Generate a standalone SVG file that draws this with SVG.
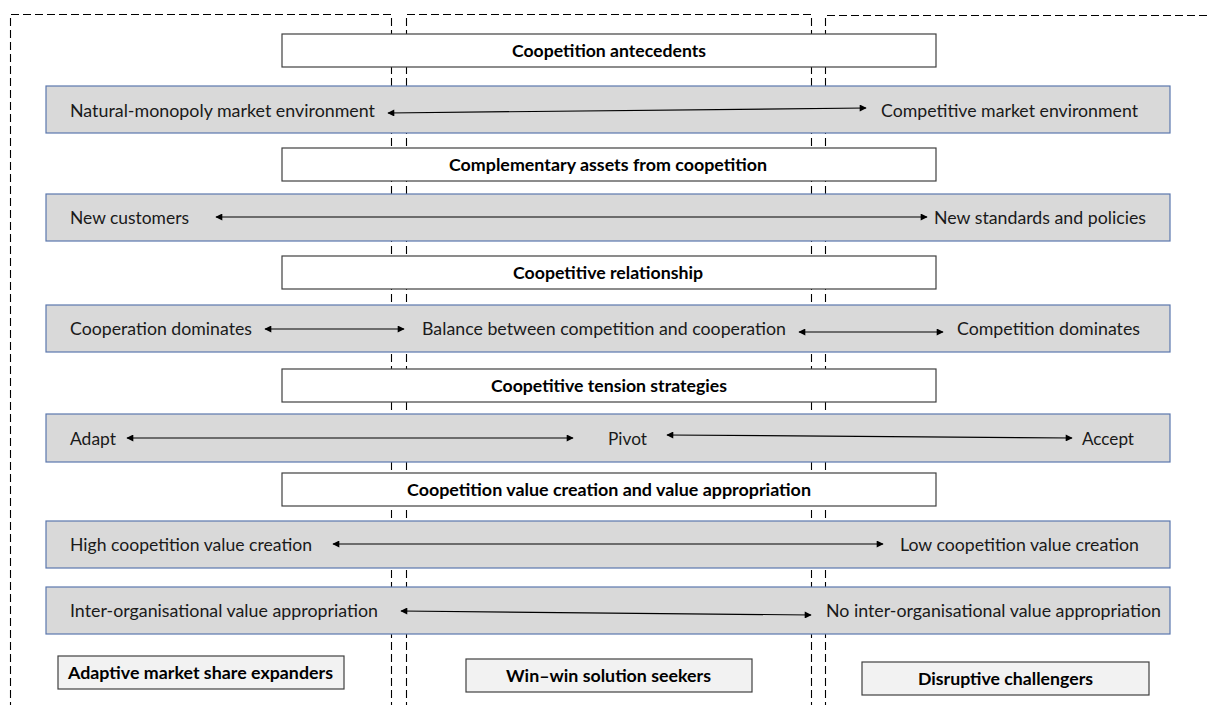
<svg xmlns="http://www.w3.org/2000/svg" width="1211" height="705" viewBox="0 0 1211 705">
<style>
  .dash { fill: none; stroke: #000; stroke-width: 1.1; stroke-dasharray: 8 4; }
  .hdr { fill: #ffffff; stroke: #404040; stroke-width: 1.2; }
  .bar { fill: #d9d9d9; stroke: #5b77ad; stroke-width: 1.2; }
  .lbl { fill: #f2f2f2; stroke: #404040; stroke-width: 1.2; }
  .t { font-family: Lato, "Liberation Sans", sans-serif; font-size: 17.5px; fill: #1a1a1a; }
  .b { font-family: Lato, "Liberation Sans", sans-serif; font-size: 17px; font-weight: bold; fill: #000; text-anchor: middle; }
  .arr { stroke: #000; stroke-width: 1.2; fill: none; marker-start: url(#ah); marker-end: url(#ah); }
</style>
<defs>
  <marker id="ah" viewBox="0 0 10 10" refX="9" refY="5" markerWidth="9" markerHeight="7" markerUnits="userSpaceOnUse" orient="auto-start-reverse">
    <path d="M0,0 L10,5 L0,10 z" fill="#000"/>
  </marker>
</defs>
<rect width="1211" height="705" fill="#ffffff"/>
<g id="columns">
  <path class="dash" d="M10.5,710 V14.5 H391.5 V710"/>
  <path class="dash" d="M406.5,710 V14.5 H811.5 V710"/>
  <path class="dash" d="M825.5,710 V15.5 H1215"/>
</g>
<g id="h1"><rect class="hdr" x="282" y="34" width="654" height="33"/><text class="b" x="609" y="56.5" textLength="194" lengthAdjust="spacingAndGlyphs">Coopetition antecedents</text></g>
<g id="r1"><rect class="bar" x="46" y="86" width="1124" height="47"/>
  <text class="t" x="70" y="116.5" textLength="305" lengthAdjust="spacingAndGlyphs">Natural-monopoly market environment</text>
  <text class="t" x="881" y="116.5" textLength="257" lengthAdjust="spacingAndGlyphs">Competitive market environment</text></g>
<g id="h2"><rect class="hdr" x="282" y="148" width="654" height="33"/><text class="b" x="608" y="170.5" textLength="318" lengthAdjust="spacingAndGlyphs">Complementary assets from coopetition</text></g>
<g id="r2"><rect class="bar" x="46" y="194" width="1124" height="47"/>
  <text class="t" x="70" y="223.5" textLength="119" lengthAdjust="spacingAndGlyphs">New customers</text>
  <text class="t" x="934" y="223.5" textLength="212" lengthAdjust="spacingAndGlyphs">New standards and policies</text></g>
<g id="h3"><rect class="hdr" x="282" y="256" width="654" height="33"/><text class="b" x="608" y="278.5" textLength="190" lengthAdjust="spacingAndGlyphs">Coopetitive relationship</text></g>
<g id="r3"><rect class="bar" x="46" y="305" width="1124" height="47"/>
  <text class="t" x="70" y="335" textLength="182" lengthAdjust="spacingAndGlyphs">Cooperation dominates</text>
  <text class="t" x="422" y="335" textLength="364" lengthAdjust="spacingAndGlyphs">Balance between competition and cooperation</text>
  <text class="t" x="957" y="335" textLength="183" lengthAdjust="spacingAndGlyphs">Competition dominates</text></g>
<g id="h4"><rect class="hdr" x="282" y="369" width="654" height="33"/><text class="b" x="609" y="391.5" textLength="236" lengthAdjust="spacingAndGlyphs">Coopetitive tension strategies</text></g>
<g id="r4"><rect class="bar" x="46" y="414" width="1124" height="48"/>
  <text class="t" x="70" y="444.5" textLength="46" lengthAdjust="spacingAndGlyphs">Adapt</text>
  <text class="t" x="608" y="444.5" textLength="39" lengthAdjust="spacingAndGlyphs">Pivot</text>
  <text class="t" x="1082" y="444.5" textLength="52" lengthAdjust="spacingAndGlyphs">Accept</text></g>
<g id="h5"><rect class="hdr" x="282" y="473" width="654" height="33"/><text class="b" x="609" y="495.5" textLength="404" lengthAdjust="spacingAndGlyphs">Coopetition value creation and value appropriation</text></g>
<g id="r5"><rect class="bar" x="46" y="521" width="1124" height="47"/>
  <text class="t" x="70" y="551" textLength="242" lengthAdjust="spacingAndGlyphs">High coopetition value creation</text>
  <text class="t" x="900" y="551" textLength="239" lengthAdjust="spacingAndGlyphs">Low coopetition value creation</text></g>
<g id="r6"><rect class="bar" x="46" y="587" width="1124" height="47"/>
  <text class="t" x="70" y="616.5" textLength="308" lengthAdjust="spacingAndGlyphs">Inter-organisational value appropriation</text>
  <text class="t" x="826" y="616.5" textLength="335" lengthAdjust="spacingAndGlyphs">No inter-organisational value appropriation</text></g>
<g id="l1"><rect class="lbl" x="58" y="656" width="286" height="33"/><text class="b" x="200.5" y="678.5" textLength="265" lengthAdjust="spacingAndGlyphs">Adaptive market share expanders</text></g>
<g id="l2"><rect class="lbl" x="466" y="659" width="286" height="33"/><text class="b" x="608.5" y="681.5" textLength="205" lengthAdjust="spacingAndGlyphs">Win–win solution seekers</text></g>
<g id="l3"><rect class="lbl" x="862" y="662" width="287" height="33"/><text class="b" x="1005.5" y="684.5" textLength="175" lengthAdjust="spacingAndGlyphs">Disruptive challengers</text></g>
<g id="connectors">
  <line class="arr" x1="388" y1="113" x2="866" y2="108"/>
  <line class="arr" x1="216" y1="217" x2="927" y2="217"/>
  <line class="arr" x1="265" y1="329" x2="404" y2="329"/>
  <line class="arr" x1="799" y1="332" x2="943" y2="332"/>
  <line class="arr" x1="127" y1="438" x2="573" y2="438"/>
  <line class="arr" x1="667" y1="435" x2="1072" y2="438"/>
  <line class="arr" x1="333" y1="544" x2="883" y2="544"/>
  <line class="arr" x1="401" y1="611" x2="811" y2="615"/>
</g>
</svg>
